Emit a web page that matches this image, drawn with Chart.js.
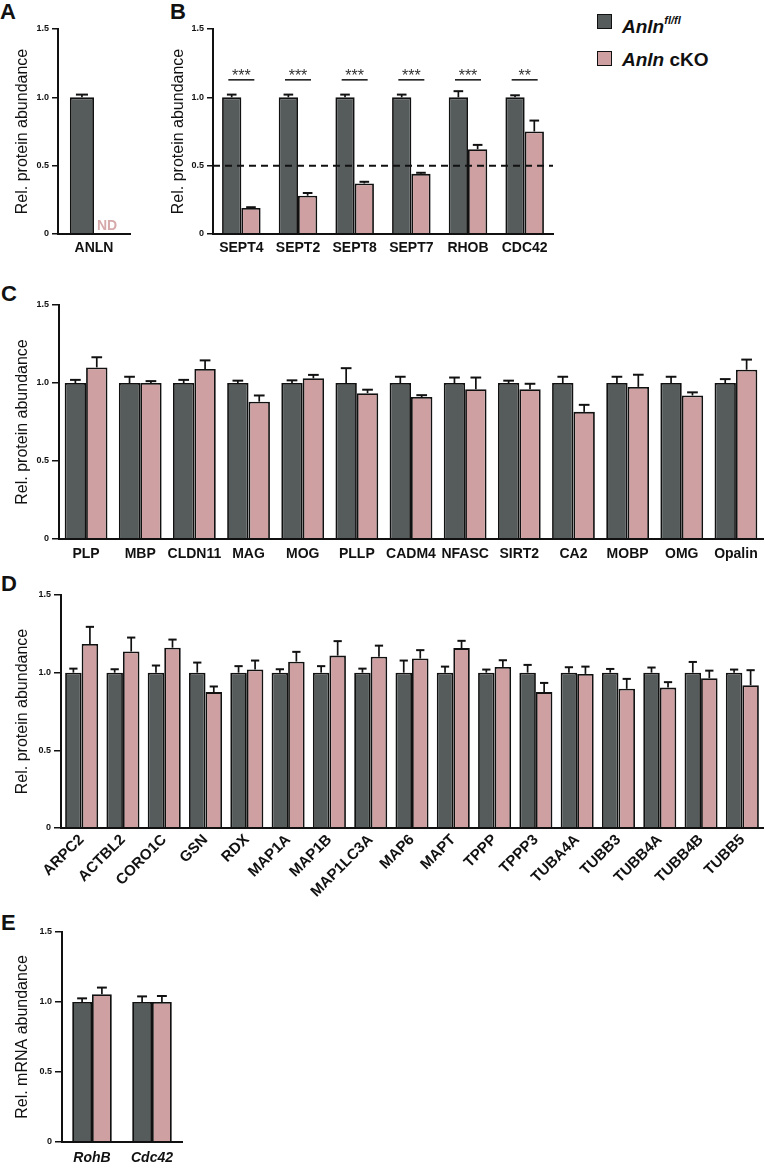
<!DOCTYPE html>
<html>
<head>
<meta charset="utf-8">
<script src="https://cdn.jsdelivr.net/npm/chart.js@4.4.1/dist/chart.umd.min.js"></script>
<style>
    body { margin: 0; background: #fff; width: 765px; height: 1168px; position: relative; overflow: hidden;
           font-family: "Liberation Sans", Arial, Helvetica, sans-serif; color: #111; }
    .panel { position: absolute; }
    .letter { position: absolute; font-size: 22px; line-height: 22px; font-weight: bold; }
    .key { position: absolute; width: 15px; height: 15px; box-sizing: border-box; border: 1.5px solid #111; }
    .keytext { position: absolute; font-size: 19px; line-height: 19px; font-weight: bold; white-space: nowrap; }
    .keytext sup { font-size: 11px; position: relative; top: -2px; }
</style>
</head>
<body>

<div class="letter" style="left:0px;top:1px">A</div>
<div class="letter" style="left:170px;top:1px">B</div>
<div class="letter" style="left:1px;top:283px">C</div>
<div class="letter" style="left:1px;top:573px">D</div>
<div class="letter" style="left:1px;top:912px">E</div>

<!-- legend -->
<div class="key" style="left:597px;top:14px;background:#565b5b"></div>
<div class="keytext" style="left:622px;top:13px"><i>Anln</i><sup><i>fl/fl</i></sup></div>
<div class="key" style="left:597px;top:51px;background:#cfa0a2"></div>
<div class="keytext" style="left:622px;top:50px"><i>Anln</i> cKO</div>

<div class="panel" style="left:0px;top:0px"><canvas id="chartA" width="135" height="260"></canvas></div>
<div class="panel" style="left:150px;top:0px"><canvas id="chartB" width="410" height="260"></canvas></div>
<div class="panel" style="left:0px;top:280px"><canvas id="chartC" width="765" height="300"></canvas></div>
<div class="panel" style="left:0px;top:570px"><canvas id="chartD" width="765" height="330"></canvas></div>
<div class="panel" style="left:0px;top:900px"><canvas id="chartE" width="250" height="268"></canvas></div>

<script>
// DATA
var groupNames = ['Anln fl/fl', 'Anln cKO'];
var yTickLabels = ['0', '0.5', '1.0', '1.5'];

// A - anillin itself
var anlnLabels = ['ANLN'];
var anlnCtrl = [1.0];
var anlnCtrlErr = [0.02];
var anlnKO = [null];          // not detected
var anlnKOErr = [null];

// B - septins & small GTPases
var septLabels = ['SEPT4', 'SEPT2', 'SEPT8', 'SEPT7', 'RHOB', 'CDC42'];
var septCtrl = [1.0, 1.0, 1.0, 1.0, 1.0, 1.0];
var septCtrlErr = [0.02, 0.02, 0.02, 0.02, 0.045, 0.015];
var septKO = [0.19, 0.28, 0.37, 0.44, 0.62, 0.75];
var septKOErr = [0.006, 0.02, 0.012, 0.008, 0.032, 0.08];
var septSig = ['***', '***', '***', '***', '***', '**'];

// C - myelin proteins
var myelinLabels = ['PLP', 'MBP', 'CLDN11', 'MAG', 'MOG', 'PLLP', 'CADM4', 'NFASC', 'SIRT2', 'CA2', 'MOBP', 'OMG', 'Opalin'];
var myelinCtrl = [1.0, 1.0, 1.0, 1.0, 1.0, 1.0, 1.0, 1.0, 1.0, 1.0, 1.0, 1.0, 1.0];
var myelinCtrlErr = [0.02, 0.04, 0.02, 0.015, 0.017, 0.095, 0.04, 0.035, 0.015, 0.04, 0.04, 0.04, 0.025];
var myelinKO = [1.10, 1.0, 1.09, 0.88, 1.03, 0.935, 0.91, 0.96, 0.96, 0.815, 0.975, 0.92, 1.085];
var myelinKOErr = [0.065, 0.012, 0.055, 0.04, 0.022, 0.022, 0.012, 0.075, 0.035, 0.045, 0.078, 0.02, 0.065];

// D - cytoskeletal proteins
var cytoLabels = ['ARPC2', 'ACTBL2', 'CORO1C', 'GSN', 'RDX', 'MAP1A', 'MAP1B', 'MAP1LC3A', 'MAP6', 'MAPT',
    'TPPP', 'TPPP3', 'TUBA4A', 'TUBB3', 'TUBB4A', 'TUBB4B', 'TUBB5'];
var cytoCtrl = [1.0, 1.0, 1.0, 1.0, 1.0, 1.0, 1.0, 1.0, 1.0, 1.0, 1.0, 1.0, 1.0, 1.0, 1.0, 1.0, 1.0];
var cytoCtrlErr = [0.026, 0.022, 0.046, 0.065, 0.042, 0.022, 0.042, 0.026, 0.078, 0.039, 0.02, 0.05, 0.035, 0.024, 0.033, 0.069, 0.02];
var cytoKO = [1.185, 1.136, 1.161, 0.875, 1.02, 1.071, 1.11, 1.102, 1.091, 1.158, 1.037, 0.875, 0.992, 0.896, 0.904, 0.964, 0.919];
var cytoKOErr = [0.11, 0.09, 0.052, 0.036, 0.058, 0.063, 0.093, 0.072, 0.054, 0.047, 0.043, 0.059, 0.047, 0.064, 0.035, 0.049, 0.097];

// E - qPCR
var mrnaLabels = ['RohB', 'Cdc42'];
var mrnaCtrl = [1.0, 1.0];
var mrnaCtrlErr = [0.026, 0.04];
var mrnaKO = [1.055, 1.0];
var mrnaKOErr = [0.048, 0.043];

var DARK = '#565b5b', PINK = '#cfa0a2', LINE = '#111';
var FONT = '"Liberation Sans", Arial, Helvetica, sans-serif';

// SEM whiskers (upper only) on top of every bar
var errorBarPlugin = {
    id: 'errorBars',
    afterDatasetsDraw: function (chart) {
        var ctx = chart.ctx, y = chart.scales.y;
        chart.data.datasets.forEach(function (ds, i) {
            if (!ds.errors) return;
            chart.getDatasetMeta(i).data.forEach(function (bar, j) {
                var v = ds.data[j], e = ds.errors[j];
                if (v == null || e == null) return;
                var top = y.getPixelForValue(v + e);
                var cap = bar.width * 0.5;
                ctx.save();
                ctx.strokeStyle = LINE;
                ctx.lineWidth = 1.7;
                ctx.beginPath();
                ctx.moveTo(bar.x, bar.y);
                ctx.lineTo(bar.x, top);
                ctx.stroke();
                ctx.lineWidth = 2;
                ctx.beginPath();
                ctx.moveTo(bar.x - cap / 2, top);
                ctx.lineTo(bar.x + cap / 2, top);
                ctx.stroke();
                ctx.restore();
            });
        });
    }
};

// "ND" where the cKO bar would be
var notDetectedPlugin = {
    id: 'notDetected',
    afterDatasetsDraw: function (chart) {
        var ctx = chart.ctx, meta = chart.getDatasetMeta(1);
        var x = meta.data[0].x;
        ctx.save();
        ctx.fillStyle = '#d6a9ab';
        ctx.font = 'bold 14px ' + FONT;
        ctx.textAlign = 'center';
        ctx.textBaseline = 'alphabetic';
        ctx.fillText('ND', x + 1, chart.scales.y.getPixelForValue(0.03));
        ctx.restore();
    }
};

// 50 % line and significance bars for panel B
var septinMarksPlugin = {
    id: 'septinMarks',
    afterDatasetsDraw: function (chart) {
        var ctx = chart.ctx, y = chart.scales.y, x = chart.scales.x, area = chart.chartArea;
        ctx.save();
        ctx.strokeStyle = LINE;
        ctx.lineWidth = 2;
        ctx.setLineDash([7, 5]);
        ctx.beginPath();
        ctx.moveTo(area.left, y.getPixelForValue(0.5));
        ctx.lineTo(area.right, y.getPixelForValue(0.5));
        ctx.stroke();
        ctx.setLineDash([]);

        var lineY = y.getPixelForValue(1.128);
        ctx.lineWidth = 1.5;
        ctx.fillStyle = '#333';
        ctx.font = '16px ' + FONT;
        ctx.textAlign = 'center';
        ctx.textBaseline = 'alphabetic';
        septSig.forEach(function (s, i) {
            var cx = x.getPixelForValue(i);
            ctx.beginPath();
            ctx.moveTo(cx - 13, lineY);
            ctx.lineTo(cx + 13, lineY);
            ctx.stroke();
            ctx.fillText(s, cx, y.getPixelForValue(1.117));
        });
        ctx.restore();
    }
};

function makePanel(id, cfg) {
    return new Chart(document.getElementById(id), {
        type: 'bar',
        data: {
            labels: cfg.labels,
            datasets: [
                {
                    label: groupNames[0], data: cfg.ctrl, errors: cfg.ctrlErr,
                    backgroundColor: DARK, borderColor: LINE, borderWidth: 1.8,
                    categoryPercentage: cfg.cat, barPercentage: 1
                },
                {
                    label: groupNames[1], data: cfg.ko, errors: cfg.koErr,
                    backgroundColor: PINK, borderColor: LINE, borderWidth: 1.8,
                    categoryPercentage: cfg.cat, barPercentage: 1
                }
            ]
        },
        options: {
            responsive: false,
            animation: false,
            devicePixelRatio: 1,
            layout: {padding: {top: cfg.top, right: cfg.right, left: 0, bottom: 0}},
            plugins: {legend: {display: false}, tooltip: {enabled: false}},
            scales: {
                x: {
                    grid: {display: false, drawTicks: false},
                    border: {display: true, color: LINE, width: 2, z: 1},
                    ticks: {
                        color: '#111', padding: cfg.xPad, autoSkip: false,
                        maxRotation: cfg.rot || 0, minRotation: cfg.rot || 0,
                        font: {family: FONT, size: cfg.xSize || 14, weight: 'bold', style: cfg.italic ? 'italic' : 'normal'}
                    },
                    afterFit: function (s) { s.height = cfg.xh; }
                },
                y: {
                    min: 0, max: 1.5,
                    grid: {drawOnChartArea: false, drawTicks: true, tickLength: cfg.tl, color: LINE, lineWidth: 1.5},
                    border: {color: LINE, width: 2},
                    ticks: {
                        stepSize: 0.5, padding: 3, color: '#111',
                        font: {family: FONT, size: 9, weight: 'bold'},
                        callback: function (v, i) { return yTickLabels[i]; }
                    },
                    title: {
                        display: true, text: cfg.yTitle, color: '#111',
                        font: {family: FONT, size: 16}, padding: {top: cfg.titlePad, bottom: 0}
                    },
                    afterFit: function (s) { s.width = cfg.yw; }
                }
            }
        },
        plugins: [errorBarPlugin].concat(cfg.plugins || [])
    });
}

makePanel('chartA', {
    labels: anlnLabels, ctrl: anlnCtrl, ctrlErr: anlnCtrlErr, ko: anlnKO, koErr: anlnKOErr,
    cat: 0.67, top: 29, right: 5, yw: 58, xh: 26, xPad: 6, tl: 6, titlePad: 13,
    yTitle: 'Rel. protein abundance', plugins: [notDetectedPlugin]
});

makePanel('chartB', {
    labels: septLabels, ctrl: septCtrl, ctrlErr: septCtrlErr, ko: septKO, koErr: septKOErr,
    cat: 0.68, top: 29, right: 7, yw: 63, xh: 26, xPad: 6, tl: 6, titlePad: 19,
    yTitle: 'Rel. protein abundance', plugins: [septinMarksPlugin]
});

makePanel('chartC', {
    labels: myelinLabels, ctrl: myelinCtrl, ctrlErr: myelinCtrlErr, ko: myelinKO, koErr: myelinKOErr,
    cat: 0.79, top: 25, right: 2, yw: 59, xh: 41, xPad: 7, tl: 7, titlePad: 13,
    yTitle: 'Rel. protein abundance'
});

makePanel('chartD', {
    labels: cytoLabels, ctrl: cytoCtrl, ctrlErr: cytoCtrlErr, ko: cytoKO, koErr: cytoKOErr,
    cat: 0.8, top: 25, right: 2, yw: 61, xh: 72, xPad: 3, tl: 7, titlePad: 13, rot: 45, xSize: 15,
    yTitle: 'Rel. protein abundance'
});

makePanel('chartE', {
    labels: mrnaLabels, ctrl: mrnaCtrl, ctrlErr: mrnaCtrlErr, ko: mrnaKO, koErr: mrnaKOErr,
    cat: 0.66, top: 32, right: 68, yw: 62, xh: 26, xPad: 8, tl: 7, titlePad: 13, italic: true,
    yTitle: 'Rel. mRNA abundance'
});
</script>
</body>
</html>
